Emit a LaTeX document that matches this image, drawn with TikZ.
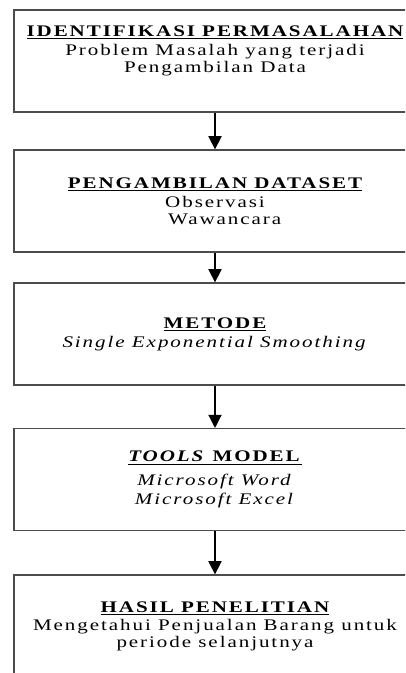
\documentclass[tikz,border=0pt]{standalone}
\usepackage{fontspec}
\setmainfont{Liberation Serif}[FakeStretch=1.3,LetterSpace=12]
\usetikzlibrary{arrows.meta, positioning}
\tikzstyle{stage} = [rectangle, minimum width=10.05cm, minimum height=2.55cm, text centered, align=center, draw=black!70, line width=0.9pt, font=\fontsize{11.5pt}{12pt}\selectfont]
\tikzstyle{arrow} = [line width=0.9pt, -{Triangle[width=0.33cm, length=0.33cm]}]

\begin{document}
\begin{tikzpicture}[node distance=3.5cm]
\useasboundingbox (0,0) rectangle (10.125,-16.825);
\clip (0,0) rectangle (10.125,-16.825);

\node (identifikasi) [stage] at (5.375,-1.525) {\textbf{\underline{IDENTIFIKASI PERMASALAHAN}}\\[2pt] Problem Masalah yang terjadi\\ Pengambilan Data\\[5pt]};
\node (dataset) [stage, below of=identifikasi] {\textbf{\underline{PENGAMBILAN DATASET}}\\[1.5pt] Observasi\\ \hspace*{1.2em}Wawancara};
\node (metode) [stage, below of=dataset, yshift=0.175cm] {\textbf{\underline{METODE}}\\[1.5pt] \textit{Single Exponential Smoothing}};
\node (tools) [stage, below of=metode, yshift=-0.14cm] {\underline{\textbf{\textit{TOOLS} MODEL}}\\[5pt] \textit{Microsoft Word}\\[1.5pt] \textit{Microsoft Excel}};
\node (hasil) [stage, below of=tools, yshift=-0.16cm] {\textbf{\underline{HASIL PENELITIAN}}\\[1pt] Mengetahui Penjualan Barang untuk\\ periode selanjutnya};

% Arrows
\draw [arrow] (identifikasi) -- (dataset);
\draw [arrow] (dataset) -- (metode);
\draw [arrow] (metode) -- (tools);
\draw [arrow] (tools) -- (hasil);
\end{tikzpicture}
\end{document}
